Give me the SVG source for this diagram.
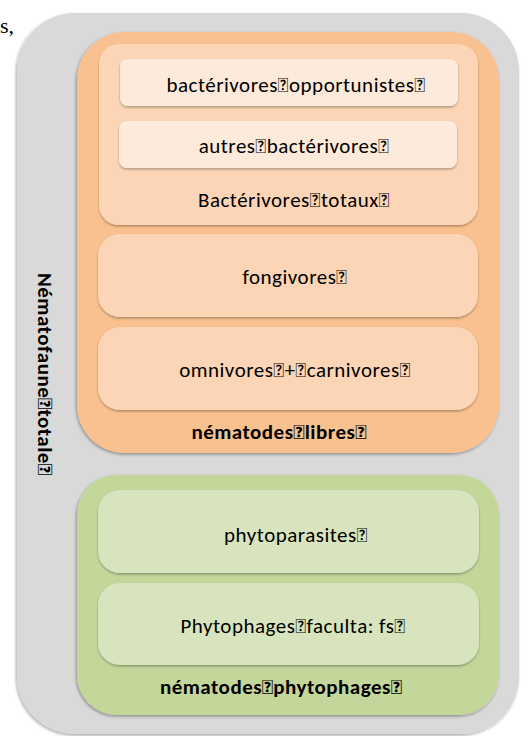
<svg xmlns="http://www.w3.org/2000/svg" width="529" height="736" viewBox="0 0 529 736">
<defs>
<filter id="sh" x="-10%" y="-10%" width="120%" height="120%">
<feDropShadow dx="-1" dy="1.5" stdDeviation="1.5" flood-color="#000" flood-opacity="0.35"/>
</filter>
<filter id="sh2" x="-10%" y="-10%" width="120%" height="130%">
<feDropShadow dx="0" dy="1.5" stdDeviation="1.2" flood-color="#000" flood-opacity="0.3"/>
</filter>
</defs>
<style>
.t{font-family:"Carlito","Lato","Liberation Sans",sans-serif;font-size:21px;letter-spacing:0.5px;fill:#000;text-anchor:middle}
.b{font-weight:bold}
.gray{fill:#d9d9d9}
.o1{fill:#f9c18f}
.o2{fill:#fbd5b5}
.o3{fill:#fdeada}
.g1{fill:#c4d79b}
.g2{fill:#d7e4bd}
</style>
<text x="0" y="33" style="font-family:'Liberation Serif',serif;font-size:22px;fill:#000">s,</text>
<g id="nematofaune">
<rect class="gray" x="17" y="13" width="502" height="721" rx="58" filter="url(#sh)"/>
<text class="t b" transform="translate(38,374) rotate(90)" style="letter-spacing:0.5px">Nématofaune&#xF020;totale&#xF020;</text>
</g>
<g id="nematodes-libres">
<rect class="o1" x="77" y="32" width="422" height="421" rx="48" filter="url(#sh)"/>
<text class="t b" x="279" y="439">nématodes&#xF020;libres&#xF020;</text>
</g>
<g id="bacterivores-totaux">
<rect class="o2" x="99" y="44" width="379" height="181" rx="20" filter="url(#sh2)"/>
<text class="t" x="294" y="207">Bactérivores&#xF020;totaux&#xF020;</text>
</g>
<g id="bacterivores-opportunistes">
<rect class="o3" x="120" y="59" width="338" height="47" rx="8" filter="url(#sh2)"/>
<text class="t" x="296" y="92">bactérivores&#xF020;opportunistes&#xF020;</text>
</g>
<g id="autres-bacterivores">
<rect class="o3" x="119" y="121" width="338" height="47" rx="8" filter="url(#sh2)"/>
<text class="t" x="294" y="153">autres&#xF020;bactérivores&#xF020;</text>
</g>
<g id="fongivores">
<rect class="o2" x="98" y="234" width="380" height="83" rx="22" filter="url(#sh2)"/>
<text class="t" x="295" y="284">fongivores&#xF020;</text>
</g>
<g id="omnivores">
<rect class="o2" x="98" y="327" width="380" height="83" rx="22" filter="url(#sh2)"/>
<text class="t" x="295" y="377">omnivores&#xF020;+&#xF020;carnivores&#xF020;</text>
</g>
<g id="nematodes-phytophages">
<rect class="g1" x="77" y="475" width="422" height="240" rx="40" filter="url(#sh)"/>
<text class="t b" x="281" y="694">nématodes&#xF020;phytophages&#xF020;</text>
</g>
<g id="phytoparasites">
<rect class="g2" x="98" y="490" width="381" height="83" rx="22" filter="url(#sh2)"/>
<text class="t" x="296" y="542">phytoparasites&#xF020;</text>
</g>
<g id="phytophages-facultatifs">
<rect class="g2" x="98" y="583" width="381" height="82" rx="22" filter="url(#sh2)"/>
<text class="t" x="293" y="633">Phytophages&#xF020;faculta: fs&#xF020;</text>
</g>
<g id="connectors"/>
</svg>
